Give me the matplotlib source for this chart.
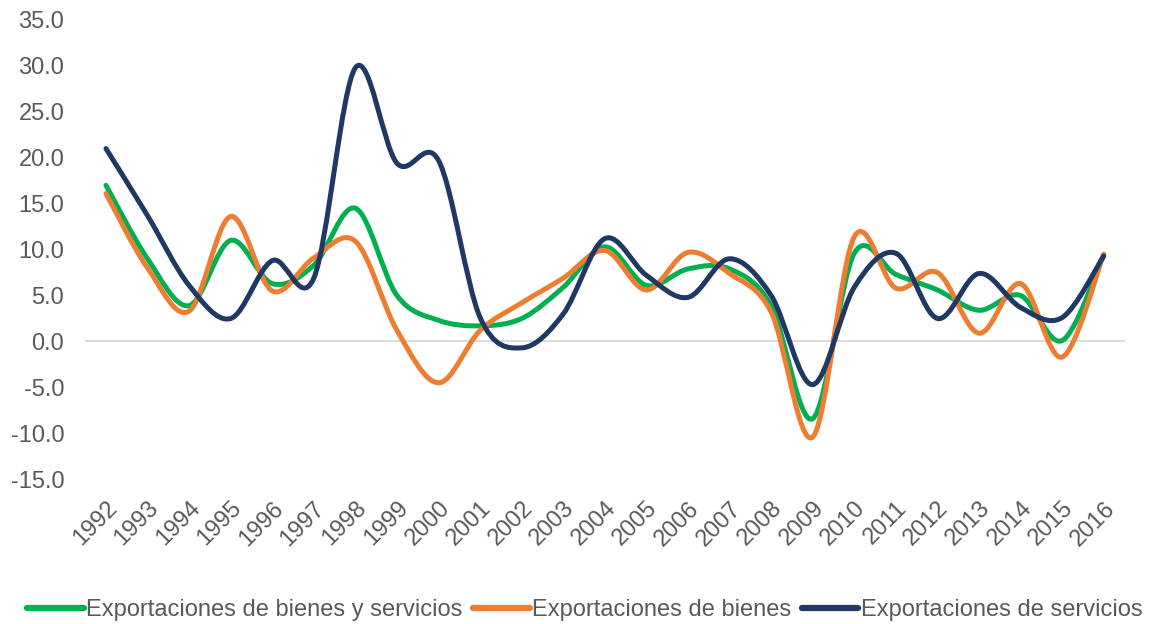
import matplotlib
matplotlib.use("Agg")
import matplotlib.pyplot as plt
import numpy as np
from matplotlib.path import Path
from matplotlib.patches import PathPatch
from matplotlib.lines import Line2D
from matplotlib.ticker import FuncFormatter

plt.rcParams['font.family'] = ['Liberation Sans', 'DejaVu Sans']
plt.rcParams['axes.unicode_minus'] = False

years = [str(y) for y in range(1992, 2017)]
bienes_servicios = [17.0, 9.0, 3.9, 11.0, 6.3, 8.3, 14.5, 5.0, 2.3, 1.7, 2.5, 5.9, 10.3,
                    6.1, 7.9, 7.9, 3.9, -8.4, 9.6, 7.3, 5.6, 3.4, 5.0, 0.1, 9.4]
bienes = [16.1, 8.0, 3.3, 13.6, 5.5, 9.1, 10.9, 1.2, -4.5, 1.2, 4.2, 6.9, 9.9,
          5.6, 9.7, 7.4, 3.2, -10.4, 11.4, 5.8, 7.5, 0.9, 6.3, -1.7, 9.5]
servicios = [21.0, 13.7, 6.1, 2.5, 8.8, 6.9, 29.8, 19.4, 19.7, 2.6, -0.7, 3.0, 11.2,
             7.2, 4.8, 9.0, 5.0, -4.7, 5.9, 9.6, 2.5, 7.4, 3.7, 2.6, 9.3]

series_names = ["Exportaciones de bienes y servicios", "Exportaciones de bienes",
                "Exportaciones de servicios"]
colors = ["#00B050", "#ED7D31", "#1F3864"]
yticks = [-15, -10, -5, 0, 5, 10, 15, 20, 25, 30, 35]


def smooth_path(xs, ys):
    pts = np.column_stack([xs, ys]).astype(float)
    n = len(pts)
    verts = [pts[0]]
    codes = [Path.MOVETO]
    for i in range(n - 1):
        p0 = pts[i - 1] if i > 0 else pts[i]
        p1 = pts[i]
        p2 = pts[i + 1]
        p3 = pts[i + 2] if i + 2 < n else pts[i + 1]
        c1 = p1 + (p2 - p0) / 6.0
        c2 = p2 - (p3 - p1) / 6.0
        verts += [c1, c2, p2]
        codes += [Path.CURVE4] * 3
    return Path(verts, codes)


fig = plt.figure(figsize=(11.51, 6.24), dpi=100)
ax = fig.add_axes([0.074, 0.232, 0.903, 0.736])

x = np.arange(len(years))
ax.axhline(0, color="#D9D9D9", lw=1.3, zorder=1)
for vals, c in zip([bienes_servicios, bienes, servicios], colors):
    p = smooth_path(x, vals)
    ax.add_patch(PathPatch(p, facecolor="none", edgecolor=c, lw=3.6,
                           capstyle="round", joinstyle="round", zorder=3))

ax.set_xlim(-0.5, len(years) - 0.5)
ax.set_ylim(-15, 35)
ax.set_yticks(yticks)
ax.yaxis.set_major_formatter(FuncFormatter(lambda v, pos: f"{v:.1f}"))
ax.set_xticks(x)
ax.set_xticklabels(years, rotation=45, ha="right", va="top", rotation_mode="anchor")
ax.tick_params(axis="both", length=0, labelsize=17, colors="#595959")
ax.tick_params(axis="y", pad=15)
ax.tick_params(axis="x", pad=13)
for s in ax.spines.values():
    s.set_visible(False)

handles = [Line2D([0], [0], color=c, lw=4.5, solid_capstyle="round") for c in colors]
fig.legend(handles, series_names, loc="center", bbox_to_anchor=(0.508, 0.022), ncol=3,
           frameon=False, fontsize=17, handlelength=2.4, handletextpad=0.1,
           columnspacing=0.45, labelcolor="#595959")

fig.savefig("out.png", dpi=100)
